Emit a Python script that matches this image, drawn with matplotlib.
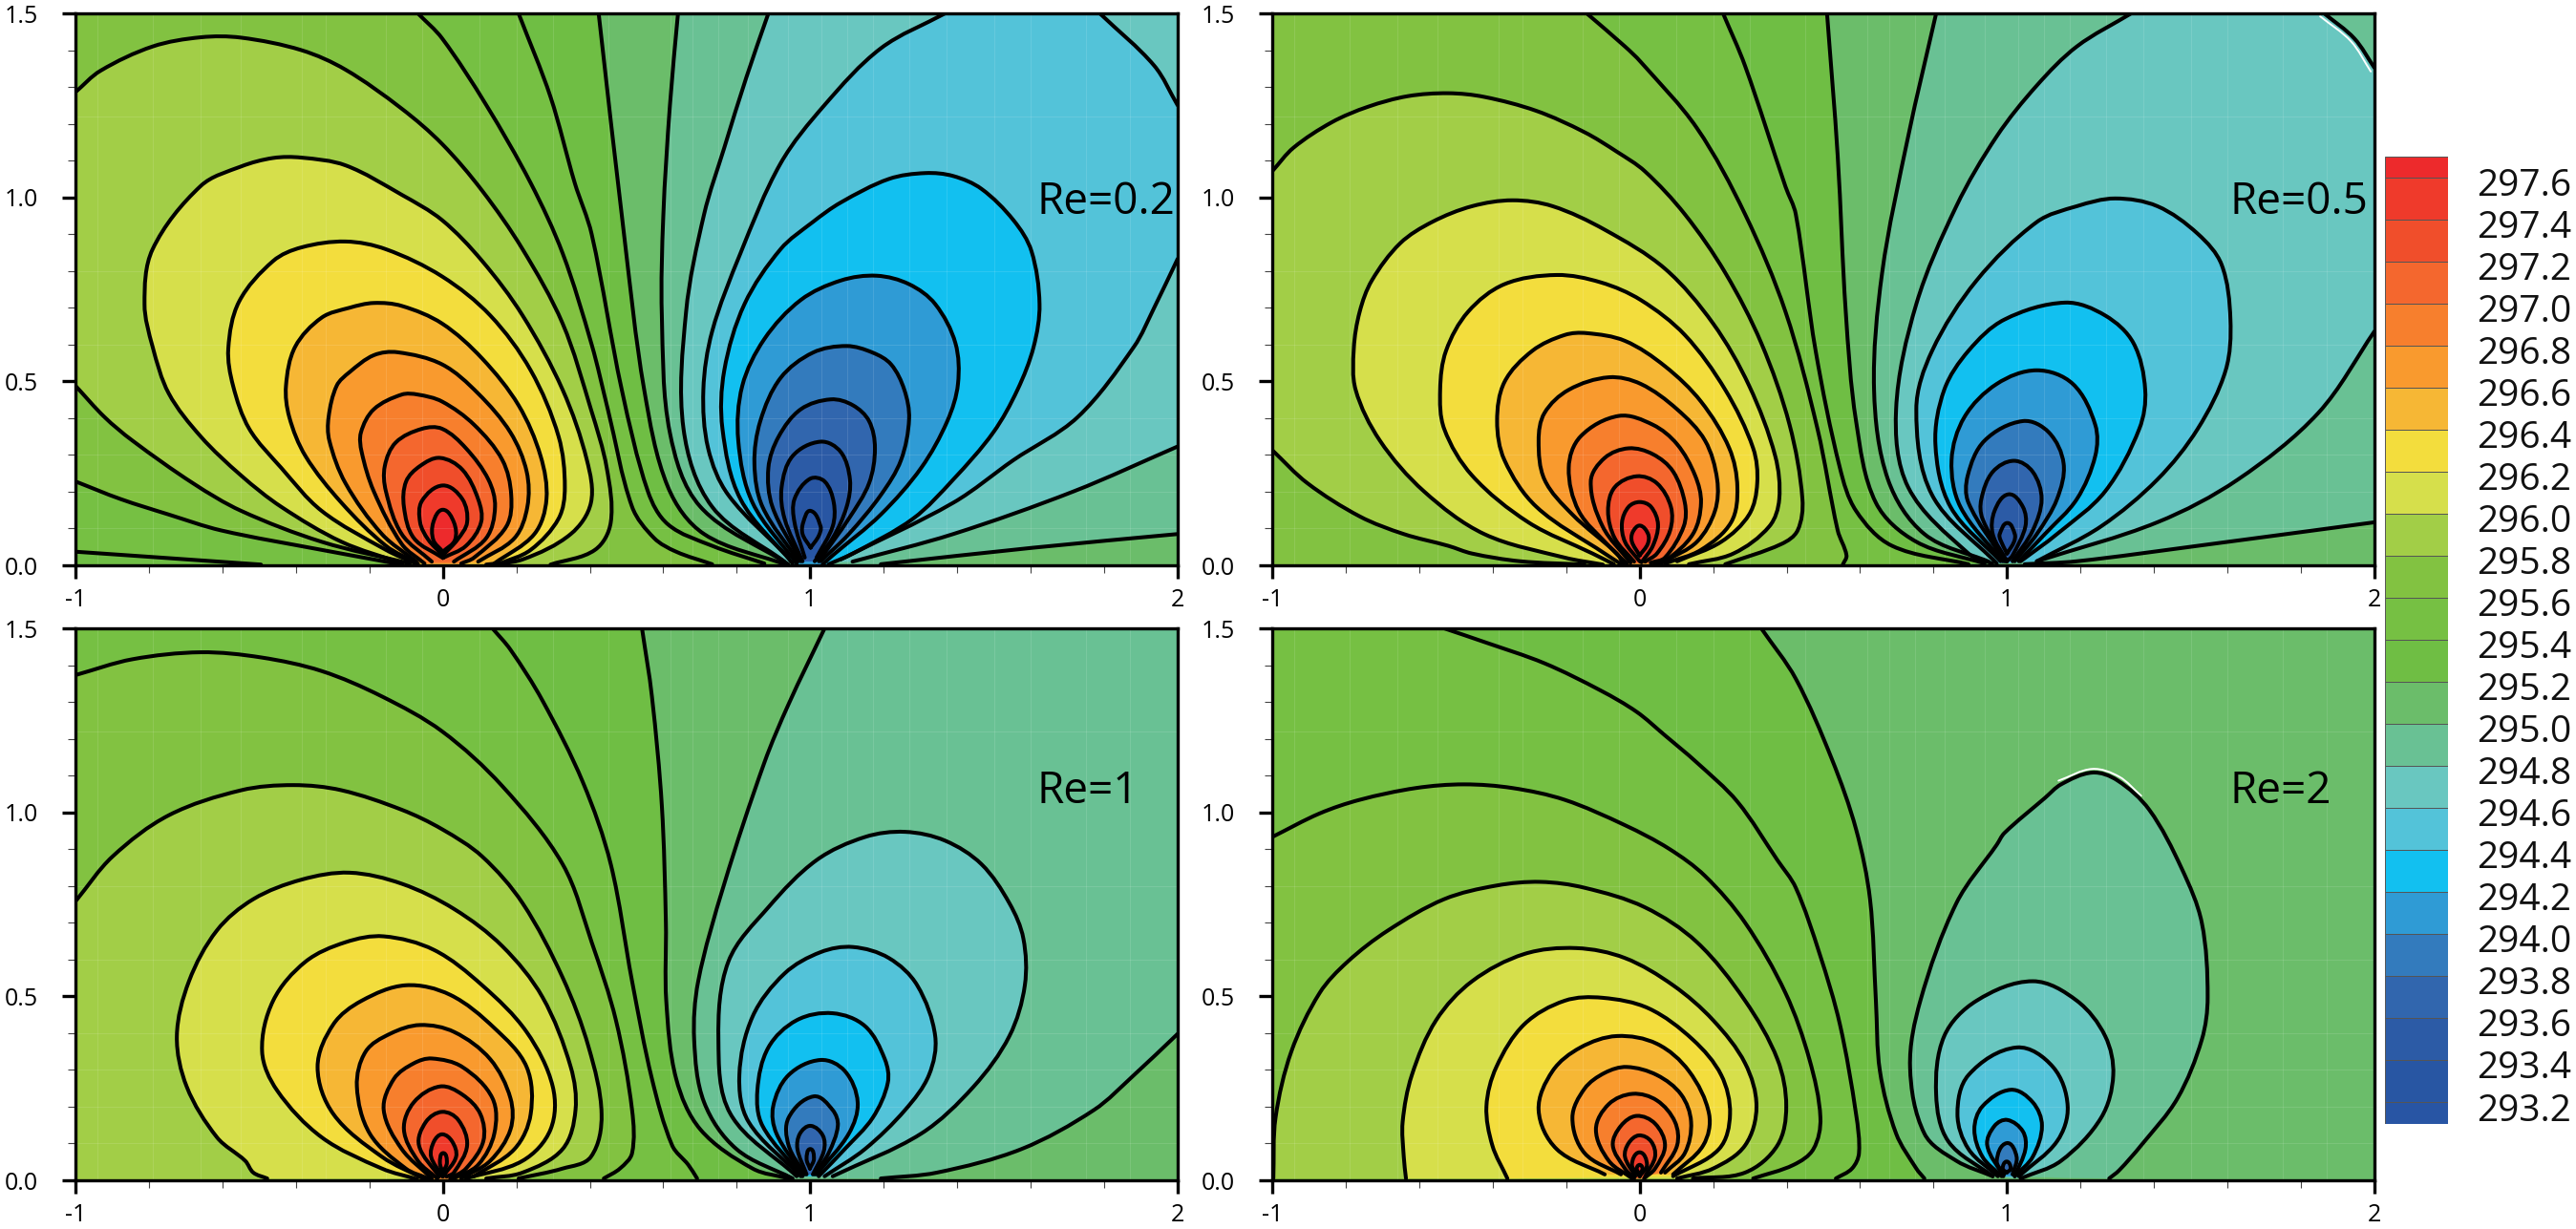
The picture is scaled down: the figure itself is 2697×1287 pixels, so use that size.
import math

import matplotlib
matplotlib.use("Agg")
import matplotlib.pyplot as plt
from matplotlib.patches import PathPatch
from matplotlib.path import Path

plt.rcParams['font.family'] = ['Open Sans', 'DejaVu Sans']
plt.rcParams['axes.unicode_minus'] = False

# colour bar, top to bottom
BAND_COLORS = ['#ED2A2C', '#EF3A2B', '#F04E2B', '#F4672E', '#F77F2D', '#F99A2E',
               '#F6B735', '#F3DD3D', '#D6DF4B', '#A2CE47', '#82C241', '#76C043',
               '#6FBE44', '#6BBD6A', '#69C194', '#69C7C0', '#53C3D9', '#12C0F0',
               '#2F9BD5', '#337BBD', '#3166AE', '#2C5BA6', '#2856A3', '#2855A4']
BAR_LEVELS = [297.6, 297.4, 297.2, 297.0, 296.8, 296.6, 296.4, 296.2, 296.0, 295.8, 295.6, 295.4,
              295.2, 295.0, 294.8, 294.6, 294.4, 294.2, 294.0, 293.8, 293.6, 293.4, 293.2]
BAR_LABELS = ['297.6', '297.4', '297.2', '297.0', '296.8', '296.6', '296.4', '296.2', '296.0',
              '295.8', '295.6', '295.4', '295.2', '295.0', '294.8', '294.6', '294.4', '294.2',
              '294.0', '293.8', '293.6', '293.4', '293.2']

X_TICKS = [-1, 0, 1, 2]
X_LABELS = ['-1', '0', '1', '2']
Y_TICKS = [0.0, 0.5, 1.0, 1.5]
Y_LABELS = ['0.0', '0.5', '1.0', '1.5']
X_MINOR = [-0.8, -0.6, -0.4, -0.2, 0.2, 0.4, 0.6, 0.8, 1.2, 1.4, 1.6, 1.8]
Y_MINOR = [0.1, 0.2, 0.3, 0.4, 0.6, 0.7, 0.8, 0.9, 1.1, 1.2, 1.3, 1.4]

# mesh seams that show faintly through the filled bands
SEAM_X = [-0.94, -0.79, -0.66, -0.55, -0.385, -0.32, -0.155, -0.057, 0.1, 0.2, 0.3, 0.45, 0.62,
          0.68, 0.75, 0.83, 0.94, 1.03, 1.1, 1.17, 1.27, 1.37, 1.5, 1.6, 1.75, 1.87]
SEAM_Y = [0.1, 0.2, 0.3, 0.4, 0.6, 0.8, 1.22]

# contours: (level, arcs). Arcs of one contour are joined along the frame to close
# the filled region, a one point arc is a frame corner.
RE02_WARM = [
    (295.2, [[(0.93, 0.003), (0.711, 0.085), (0.613, 0.212), (0.548, 0.477), (0.493, 0.9), (0.424, 1.5)],
             [(-1, 1.5)], [(-1, 0)]]),
    (295.4, [[(0.875, 0.005), (0.733, 0.053), (0.613, 0.111), (0.558, 0.201), (0.487, 0.477), (0.405, 0.9),
              (0.359, 1.039), (0.293, 1.273), (0.206, 1.5)],
             [(-1, 1.5)], [(-1, 0.037), (-0.768, 0.021), (-0.495, 0.002)]]),
    (295.6, [[(0.733, 0.003), (0.635, 0.037), (0.575, 0.074), (0.515, 0.159), (0.449, 0.424), (0.405, 0.6),
              (0.326, 0.848), (0.239, 1.039), (0.118, 1.251), (-0.002, 1.432), (-0.068, 1.5)],
             [(-1, 1.5)], [(-1, 0.228), (-0.877, 0.18), (-0.746, 0.138), (-0.604, 0.095), (-0.33, 0.042), (-0.112, 0.002)]]),
    (295.8, [[(0.293, 0.002), (0.414, 0.042), (0.457, 0.117), (0.446, 0.265), (0.403, 0.424), (0.326, 0.657),
              (0.217, 0.859), (0.107, 1.018), (-0.002, 1.145), (-0.112, 1.241), (-0.265, 1.347), (-0.385, 1.4),
              (-0.549, 1.434), (-0.659, 1.435), (-0.79, 1.41), (-0.932, 1.344), (-1, 1.286)],
             [(-1, 0.488), (-0.921, 0.403), (-0.845, 0.339), (-0.68, 0.223), (-0.549, 0.148), (-0.33, 0.064), (-0.09, 0.005)]]),
    (296.0, [[(-0.11, 0.005), (-0.276, 0.064), (-0.44, 0.159), (-0.549, 0.244), (-0.659, 0.35), (-0.746, 0.467),
              (-0.79, 0.594), (-0.812, 0.71), (-0.79, 0.859), (-0.659, 1.031), (-0.549, 1.084), (-0.462, 1.107),
              (-0.385, 1.108), (-0.265, 1.087), (-0.112, 1.007), (-0.002, 0.938), (0.107, 0.827), (0.217, 0.679),
              (0.326, 0.477), (0.392, 0.286), (0.403, 0.17), (0.348, 0.085), (0.217, 0.016), (0.118, 0.002)]]),
    (296.2, [[(-0.068, 0.002), (-0.155, 0.042), (-0.33, 0.148), (-0.44, 0.265), (-0.527, 0.371), (-0.571, 0.488),
              (-0.584, 0.589), (-0.555, 0.716), (-0.462, 0.827), (-0.385, 0.864), (-0.265, 0.88), (-0.155, 0.859),
              (-0.002, 0.785), (0.129, 0.679), (0.239, 0.53), (0.315, 0.35), (0.332, 0.212), (0.315, 0.127),
              (0.239, 0.042), (0.151, 0.003)]]),
    (296.4, [[(-0.068, 0.005), (-0.155, 0.053), (-0.276, 0.17), (-0.374, 0.297), (-0.418, 0.403), (-0.427, 0.488),
              (-0.402, 0.594), (-0.33, 0.673), (-0.254, 0.7), (-0.188, 0.713), (-0.112, 0.705), (-0.002, 0.657),
              (0.107, 0.562), (0.206, 0.435), (0.266, 0.297), (0.282, 0.18), (0.249, 0.085), (0.14, 0.005)]]),
    (296.6, [[(-0.072, 0.01), (-0.166, 0.085), (-0.265, 0.223), (-0.309, 0.339), (-0.311, 0.403), (-0.289, 0.488),
              (-0.254, 0.525), (-0.188, 0.571), (-0.123, 0.579), (-0.002, 0.546), (0.096, 0.467), (0.184, 0.361),
              (0.228, 0.255), (0.23, 0.159), (0.195, 0.074), (0.096, 0.01)]]),
    (296.8, [[(-0.05, 0.005), (-0.112, 0.058), (-0.188, 0.201), (-0.221, 0.308), (-0.223, 0.361), (-0.188, 0.424),
              (-0.112, 0.464), (-0.068, 0.464), (-0.002, 0.445), (0.085, 0.382), (0.162, 0.286), (0.186, 0.191),
              (0.173, 0.106), (0.085, 0.021), (0.05, 0.005)]]),
    (297.0, [[(-0.03, 0.01), (-0.112, 0.085), (-0.155, 0.201), (-0.158, 0.27), (-0.128, 0.334), (-0.057, 0.371),
              (-0.002, 0.371), (0.063, 0.318), (0.124, 0.233), (0.142, 0.159), (0.118, 0.074), (0.03, 0.01)]]),
    (297.2, [[(0.0, 0.02), (-0.079, 0.074), (-0.106, 0.159), (-0.1, 0.228), (-0.062, 0.27), (-0.008, 0.292),
              (0.053, 0.26), (0.096, 0.18), (0.104, 0.117), (0.063, 0.053), (0.0, 0.02)]]),
    (297.4, [[(0.0, 0.027), (-0.04, 0.07), (-0.062, 0.117), (-0.057, 0.175), (0.0, 0.217), (0.053, 0.18),
              (0.066, 0.117), (0.04, 0.07), (0.0, 0.027)]]),
    (297.6, [[(0.0, 0.037), (-0.026, 0.069), (-0.026, 0.117), (0.0, 0.151), (0.03, 0.117), (0.033, 0.069), (0.0, 0.037)]]),
]
RE02_COOL = [
    (295.0, [[(0.64, 1.5), (0.618, 1.25), (0.6, 0.95), (0.596, 0.679), (0.618, 0.36), (0.701, 0.159), (0.94, 0.003)],
             [(1.192, 0.003), (1.608, 0.048), (2, 0.085)], [(2, 1.5)]]),
    (294.8, [[(0.886, 1.5), (0.826, 1.326), (0.766, 1.135), (0.711, 0.954), (0.662, 0.689), (0.655, 0.371), (0.733, 0.159), (0.93, 0.01)],
             [(1.115, 0.01), (1.389, 0.085), (1.717, 0.201), (2, 0.323)], [(2, 1.5)]]),
    (294.6, [[(1.367, 1.5), (1.192, 1.405), (1.039, 1.251), (0.919, 1.092), (0.81, 0.848), (0.733, 0.636),
              (0.709, 0.477), (0.722, 0.318), (0.777, 0.191), (0.941, 0.021)],
             [(1.083, 0.016), (1.389, 0.17), (1.553, 0.286), (1.728, 0.403), (1.881, 0.594), (1.936, 0.7), (2, 0.833)],
             [(2, 1.25), (1.936, 1.358), (1.788, 1.5)]]),
    (294.4, [[(0.952, 0.005), (0.81, 0.18), (0.761, 0.371), (0.766, 0.53), (0.821, 0.71), (0.919, 0.859), (1.007, 0.933),
              (1.083, 0.986), (1.214, 1.05), (1.313, 1.066), (1.389, 1.058), (1.466, 1.023), (1.553, 0.938), (1.602, 0.854),
              (1.624, 0.71), (1.608, 0.594), (1.564, 0.477), (1.498, 0.361), (1.389, 0.233), (1.28, 0.127), (1.116, 0.032),
              (1.05, 0.003)]]),
    (294.2, [[(0.963, 0.005), (0.843, 0.17), (0.804, 0.339), (0.815, 0.488), (0.875, 0.615), (0.974, 0.721), (1.083, 0.774),
              (1.181, 0.787), (1.269, 0.764), (1.34, 0.71), (1.395, 0.604), (1.402, 0.493), (1.373, 0.392), (1.302, 0.265),
              (1.192, 0.138), (1.061, 0.027), (1.034, 0.003)]]),
    (294.0, [[(0.968, 0.011), (0.87, 0.159), (0.848, 0.276), (0.864, 0.392), (0.919, 0.509), (1.007, 0.578), (1.099, 0.596),
              (1.17, 0.578), (1.22, 0.546), (1.256, 0.477), (1.269, 0.398), (1.247, 0.286), (1.192, 0.191), (1.105, 0.085),
              (1.028, 0.011)]]),
    (293.8, [[(0.974, 0.011), (0.897, 0.159), (0.886, 0.265), (0.914, 0.35), (0.974, 0.424), (1.056, 0.451), (1.116, 0.435),
              (1.16, 0.392), (1.176, 0.318), (1.16, 0.223), (1.105, 0.127), (1.023, 0.011)]]),
    (293.6, [[(0.979, 0.011), (0.93, 0.127), (0.922, 0.212), (0.952, 0.297), (1.028, 0.336), (1.083, 0.308), (1.108, 0.233),
              (1.099, 0.159), (1.061, 0.074), (1.012, 0.011)]]),
    (293.4, [[(0.985, 0.021), (0.957, 0.117), (0.957, 0.18), (0.999, 0.235), (1.039, 0.228), (1.064, 0.17), (1.061, 0.106),
              (1.017, 0.021)]]),
    (293.2, [[(1.001, 0.048), (0.979, 0.085), (0.981, 0.117), (1.001, 0.148), (1.028, 0.106), (1.023, 0.08), (1.001, 0.048)]]),
]

RE05_WARM = [
    (295.2, [[(0.939, 0.005), (0.753, 0.064), (0.643, 0.17), (0.589, 0.392), (0.561, 0.689), (0.539, 1.113), (0.51, 1.5)],
             [(-1, 1.5)], [(-1, 0)]]),
    (295.4, [[(0.895, 0.003), (0.687, 0.053), (0.589, 0.148), (0.545, 0.265), (0.479, 0.583), (0.425, 0.954), (0.397, 1.029),
              (0.287, 1.357), (0.227, 1.5)],
             [(-1, 1.5)], [(-1, 0)]]),
    (295.6, [[(0.553, 0.002), (0.563, 0.027), (0.539, 0.095), (0.484, 0.371), (0.397, 0.689), (0.287, 0.954), (0.156, 1.188),
              (0.003, 1.368), (-0.04, 1.41), (-0.144, 1.5)],
             [(-1, 1.5)], [(-1, 0)]]),
    (295.8, [[(0.233, 0.003), (0.386, 0.058), (0.43, 0.095), (0.443, 0.18), (0.408, 0.382), (0.331, 0.604), (0.233, 0.795),
              (0.123, 0.954), (0.014, 1.071), (-0.062, 1.124), (-0.15, 1.177), (-0.281, 1.235), (-0.423, 1.273), (-0.521, 1.283),
              (-0.631, 1.275), (-0.74, 1.246), (-0.838, 1.204), (-0.942, 1.135), (-1, 1.071)],
             [(-1, 0.313), (-0.904, 0.223), (-0.762, 0.133), (-0.642, 0.085), (-0.521, 0.053), (-0.456, 0.032), (-0.325, 0.011),
              (-0.15, 0.002)]]),
    (296.0, [[(-0.1, 0.002), (-0.204, 0.021), (-0.423, 0.085), (-0.587, 0.201), (-0.707, 0.339), (-0.773, 0.477), (-0.778, 0.589),
              (-0.762, 0.689), (-0.729, 0.774), (-0.652, 0.875), (-0.565, 0.933), (-0.456, 0.976), (-0.346, 0.992), (-0.237, 0.976),
              (-0.095, 0.912), (0.069, 0.806), (0.2, 0.657), (0.298, 0.488), (0.369, 0.297), (0.38, 0.18), (0.353, 0.106),
              (0.255, 0.032), (0.134, 0.003)]]),
    (296.2, [[(-0.07, 0.003), (-0.128, 0.032), (-0.303, 0.117), (-0.456, 0.244), (-0.532, 0.371), (-0.543, 0.477), (-0.527, 0.583),
              (-0.467, 0.689), (-0.368, 0.764), (-0.226, 0.789), (-0.106, 0.769), (0.003, 0.721), (0.123, 0.626), (0.233, 0.477),
              (0.309, 0.318), (0.32, 0.223), (0.298, 0.138), (0.222, 0.064), (0.102, 0.011)]]),
    (296.4, [[(-0.05, 0.003), (-0.095, 0.032), (-0.281, 0.159), (-0.368, 0.286), (-0.388, 0.392), (-0.368, 0.498), (-0.292, 0.583),
              (-0.204, 0.626), (-0.144, 0.631), (-0.04, 0.61), (0.069, 0.541), (0.167, 0.445), (0.244, 0.318), (0.266, 0.212),
              (0.249, 0.117), (0.167, 0.042), (0.069, 0.005)]]),
    (296.6, [[(-0.045, 0.005), (-0.062, 0.032), (-0.183, 0.138), (-0.259, 0.233), (-0.275, 0.339), (-0.259, 0.414), (-0.193, 0.477),
              (-0.084, 0.511), (0.003, 0.493), (0.102, 0.424), (0.178, 0.339), (0.211, 0.233), (0.205, 0.148), (0.156, 0.064),
              (0.069, 0.011)]]),
    (296.8, [[(-0.035, 0.005), (-0.084, 0.053), (-0.166, 0.148), (-0.193, 0.265), (-0.161, 0.35), (-0.057, 0.406), (0.036, 0.382),
              (0.102, 0.329), (0.151, 0.244), (0.167, 0.17), (0.145, 0.085), (0.069, 0.011), (0.04, 0.005)]]),
    (297.0, [[(-0.025, 0.007), (-0.101, 0.106), (-0.133, 0.228), (-0.095, 0.292), (-0.03, 0.318), (0.036, 0.302), (0.091, 0.255),
              (0.123, 0.17), (0.12, 0.106), (0.069, 0.021), (0.03, 0.007)]]),
    (297.2, [[(-0.015, 0.01), (-0.068, 0.074), (-0.086, 0.148), (-0.068, 0.212), (-0.008, 0.242), (0.047, 0.223), (0.085, 0.159),
              (0.083, 0.095), (0.047, 0.032), (0.015, 0.01)]]),
    (297.4, [[(0.0, 0.011), (-0.04, 0.064), (-0.048, 0.117), (-0.03, 0.159), (0.0, 0.172), (0.031, 0.159), (0.05, 0.111),
              (0.036, 0.053), (0.005, 0.008)]]),
    (297.6, [[(0.0, 0.027), (-0.021, 0.064), (-0.019, 0.09), (0.001, 0.108), (0.023, 0.085), (0.022, 0.058), (0.0, 0.027)]]),
]
RE05_COOL = [
    (295.0, [[(0.807, 1.5), (0.731, 1.166), (0.66, 0.795), (0.638, 0.477), (0.676, 0.233), (0.775, 0.085), (0.95, 0.01)],
             [(1.048, 0.003), (1.19, 0.011), (1.519, 0.053), (2, 0.117)], [(2, 1.5)]]),
    (294.8, [[(1.338, 1.5), (1.19, 1.41), (1.081, 1.304), (0.972, 1.166), (0.862, 0.976), (0.753, 0.71), (0.698, 0.424),
              (0.731, 0.212), (0.895, 0.032), (0.96, 0.005)],
             [(1.081, 0.011), (1.409, 0.117), (1.628, 0.233), (1.847, 0.414), (2, 0.636)],
             [(2, 1.352), (1.945, 1.432), (1.863, 1.5)]]),
    (294.6, [[(0.972, 0.005), (0.796, 0.191), (0.753, 0.424), (0.796, 0.583), (0.917, 0.774), (1.081, 0.933), (1.19, 0.976),
              (1.294, 0.997), (1.409, 0.976), (1.519, 0.901), (1.584, 0.817), (1.608, 0.668), (1.595, 0.53), (1.519, 0.371),
              (1.409, 0.233), (1.256, 0.106), (1.081, 0.011)]]),
    (294.4, [[(0.982, 0.011), (0.846, 0.159), (0.805, 0.329), (0.829, 0.477), (0.895, 0.583), (0.993, 0.668), (1.158, 0.714),
              (1.267, 0.679), (1.344, 0.604), (1.376, 0.477), (1.36, 0.371), (1.267, 0.201), (1.136, 0.085), (1.037, 0.011)]]),
    (294.2, [[(0.988, 0.011), (0.873, 0.159), (0.849, 0.286), (0.884, 0.403), (0.972, 0.493), (1.081, 0.53), (1.179, 0.493),
              (1.24, 0.382), (1.24, 0.297), (1.19, 0.18), (1.103, 0.085), (1.032, 0.011)]]),
    (294.0, [[(0.993, 0.011), (0.895, 0.17), (0.893, 0.244), (0.939, 0.339), (1.043, 0.392), (1.114, 0.361), (1.154, 0.276),
              (1.136, 0.18), (1.081, 0.085), (1.021, 0.011)]]),
    (293.8, [[(0.996, 0.011), (0.933, 0.127), (0.93, 0.18), (0.961, 0.254), (1.019, 0.284), (1.07, 0.254), (1.094, 0.18),
              (1.07, 0.095), (1.015, 0.011)]]),
    (293.6, [[(1.0, 0.011), (0.961, 0.085), (0.966, 0.148), (1.004, 0.193), (1.043, 0.159), (1.05, 0.106), (1.015, 0.027), (1.0, 0.011)]]),
    (293.4, [[(1.0, 0.032), (0.982, 0.069), (0.98, 0.085), (1.001, 0.115), (1.021, 0.085), (1.019, 0.064), (1.0, 0.032)]]),
]

RE1_WARM = [
    (295.2, [[(0.941, 0.005), (0.843, 0.032), (0.701, 0.138), (0.635, 0.276), (0.608, 0.488), (0.607, 0.7), (0.596, 1.018),
              (0.569, 1.315), (0.542, 1.5)],
             [(-1, 1.5)], [(-1, 0)]]),
    (295.4, [[(0.692, 0.005), (0.668, 0.042), (0.624, 0.095), (0.569, 0.276), (0.515, 0.541), (0.457, 0.859), (0.381, 1.082),
              (0.271, 1.304), (0.184, 1.442), (0.135, 1.5)],
             [(-1, 1.5)], [(-1, 0)]]),
    (295.6, [[(0.438, 0.005), (0.482, 0.032), (0.515, 0.074), (0.515, 0.191), (0.471, 0.435), (0.405, 0.647), (0.326, 0.859),
              (0.162, 1.071), (-0.002, 1.22), (-0.166, 1.315), (-0.33, 1.384), (-0.495, 1.421), (-0.659, 1.435), (-0.845, 1.416), (-1, 1.373)],
             [(-1, 0)]]),
    (295.8, [[(0.206, 0.005), (0.326, 0.032), (0.403, 0.064), (0.432, 0.18), (0.397, 0.361), (0.326, 0.551), (0.217, 0.753),
              (0.107, 0.88), (-0.002, 0.954), (-0.112, 1.007), (-0.276, 1.06), (-0.407, 1.074), (-0.549, 1.06), (-0.746, 0.992),
              (-0.899, 0.88), (-1, 0.758)],
             [(-1, 0)]]),
    (296.0, [[(-0.478, 0.005), (-0.516, 0.021), (-0.538, 0.053), (-0.615, 0.117), (-0.697, 0.254), (-0.724, 0.392), (-0.691, 0.541),
              (-0.615, 0.679), (-0.516, 0.764), (-0.385, 0.817), (-0.254, 0.836), (-0.112, 0.806), (0.031, 0.737), (0.162, 0.636),
              (0.271, 0.498), (0.348, 0.308), (0.361, 0.191), (0.326, 0.085), (0.217, 0.021), (0.118, 0.005)]]),
    (296.2, [[(-0.07, 0.003), (-0.166, 0.032), (-0.33, 0.117), (-0.451, 0.244), (-0.492, 0.35), (-0.462, 0.488), (-0.374, 0.594),
              (-0.265, 0.647), (-0.161, 0.663), (-0.024, 0.626), (0.107, 0.53), (0.228, 0.403), (0.299, 0.255), (0.293, 0.138),
              (0.217, 0.053), (0.063, 0.005)]]),
    (296.4, [[(-0.05, 0.003), (-0.166, 0.064), (-0.298, 0.18), (-0.341, 0.308), (-0.298, 0.424), (-0.221, 0.488), (-0.101, 0.53),
              (0.02, 0.504), (0.14, 0.414), (0.228, 0.308), (0.239, 0.18), (0.195, 0.085), (0.085, 0.011)]]),
    (296.6, [[(-0.04, 0.005), (-0.101, 0.032), (-0.199, 0.127), (-0.234, 0.255), (-0.21, 0.35), (-0.144, 0.398), (-0.062, 0.422),
              (0.031, 0.403), (0.129, 0.329), (0.184, 0.223), (0.184, 0.138), (0.129, 0.053), (0.05, 0.005)]]),
    (296.8, [[(-0.03, 0.005), (-0.112, 0.085), (-0.161, 0.191), (-0.133, 0.276), (-0.079, 0.318), (-0.03, 0.331), (0.053, 0.308),
              (0.135, 0.223), (0.14, 0.127), (0.096, 0.042), (0.03, 0.005)]]),
    (297.0, [[(-0.015, 0.005), (-0.068, 0.053), (-0.106, 0.138), (-0.079, 0.212), (-0.008, 0.255), (0.053, 0.233), (0.102, 0.18),
              (0.11, 0.106), (0.063, 0.032), (0.02, 0.005)]]),
    (297.2, [[(-0.01, 0.01), (-0.065, 0.095), (-0.046, 0.159), (-0.002, 0.186), (0.042, 0.164), (0.066, 0.095), (0.03, 0.021), (0.01, 0.01)]]),
    (297.4, [[(0.0, 0.01), (-0.032, 0.064), (-0.024, 0.106), (-0.002, 0.125), (0.025, 0.106), (0.036, 0.064), (0.0, 0.01)]]),
    (297.6, [[(0.0, 0.021), (-0.008, 0.048), (0.001, 0.074), (0.011, 0.048), (0.0, 0.021)]]),
]
RE1_COOL = [
    (295.0, [[(1.039, 1.5), (0.941, 1.294), (0.875, 1.135), (0.766, 0.806), (0.695, 0.541), (0.684, 0.382), (0.711, 0.212),
              (0.799, 0.085), (0.952, 0.005)],
             [(1.192, 0.005), (1.345, 0.021), (1.575, 0.085), (1.772, 0.191), (1.881, 0.286), (2, 0.398)], [(2, 1.5)]]),
    (294.8, [[(0.963, 0.011), (0.783, 0.18), (0.75, 0.382), (0.777, 0.594), (0.886, 0.742), (1.017, 0.87), (1.149, 0.933),
              (1.258, 0.947), (1.367, 0.923), (1.466, 0.859), (1.542, 0.753), (1.58, 0.657), (1.584, 0.53), (1.542, 0.392),
              (1.444, 0.254), (1.302, 0.127), (1.061, 0.011)]]),
    (294.6, [[(0.974, 0.011), (0.832, 0.159), (0.807, 0.286), (0.843, 0.445), (0.93, 0.562), (1.028, 0.62), (1.116, 0.634),
              (1.214, 0.604), (1.291, 0.53), (1.34, 0.392), (1.323, 0.286), (1.258, 0.191), (1.149, 0.085), (1.039, 0.011)]]),
    (294.4, [[(0.979, 0.011), (0.87, 0.148), (0.856, 0.244), (0.886, 0.361), (0.963, 0.435), (1.061, 0.454), (1.149, 0.419),
              (1.203, 0.329), (1.211, 0.265), (1.17, 0.17), (1.094, 0.085), (1.023, 0.011)]]),
    (294.2, [[(0.979, 0.016), (0.908, 0.127), (0.899, 0.201), (0.941, 0.286), (1.028, 0.327), (1.094, 0.297), (1.129, 0.212),
              (1.105, 0.127), (1.017, 0.016)]]),
    (294.0, [[(0.985, 0.016), (0.941, 0.095), (0.941, 0.17), (1.009, 0.228), (1.061, 0.191), (1.075, 0.148), (1.05, 0.074), (1.012, 0.016)]]),
    (293.8, [[(0.99, 0.016), (0.965, 0.085), (0.972, 0.127), (1.001, 0.148), (1.034, 0.122), (1.037, 0.08), (1.007, 0.016)]]),
    (293.6, [[(0.999, 0.032), (0.99, 0.058), (1.0, 0.085), (1.01, 0.058), (0.999, 0.032)]]),
]

RE2_WARM = [
    (295.2, [[(0.775, 0.005), (0.753, 0.032), (0.698, 0.127), (0.654, 0.297), (0.643, 0.488), (0.627, 0.764), (0.589, 0.954),
              (0.523, 1.145), (0.425, 1.363), (0.331, 1.5)],
             [(-1, 1.5)], [(-1, 0)]]),
    (295.4, [[(0.534, 0.005), (0.578, 0.032), (0.597, 0.074), (0.589, 0.18), (0.545, 0.424), (0.49, 0.615), (0.425, 0.795),
              (0.375, 0.87), (0.266, 1.029), (0.156, 1.135), (0.069, 1.209), (-0.008, 1.273), (-0.106, 1.331), (-0.259, 1.405),
              (-0.423, 1.463), (-0.532, 1.5)],
             [(-1, 1.5)], [(-1, 0)]]),
    (295.6, [[(0.309, 0.005), (0.419, 0.042), (0.473, 0.085), (0.492, 0.17), (0.462, 0.329), (0.397, 0.509), (0.287, 0.7),
              (0.178, 0.827), (0.08, 0.901), (-0.04, 0.965), (-0.204, 1.034), (-0.346, 1.066), (-0.478, 1.076), (-0.609, 1.066),
              (-0.762, 1.034), (-0.871, 0.997), (-1, 0.933)],
             [(-1, 0)]]),
    (295.8, [[(-0.997, 0.005), (-0.991, 0.17), (-0.948, 0.35), (-0.871, 0.509), (-0.795, 0.594), (-0.685, 0.679), (-0.532, 0.764),
              (-0.39, 0.801), (-0.27, 0.811), (-0.15, 0.795), (0.014, 0.742), (0.156, 0.647), (0.287, 0.488), (0.375, 0.329),
              (0.399, 0.201), (0.375, 0.095), (0.287, 0.021), (0.145, 0.005)]]),
    (296.0, [[(-0.636, 0.005), (-0.642, 0.064), (-0.645, 0.159), (-0.62, 0.286), (-0.554, 0.435), (-0.456, 0.541), (-0.314, 0.615),
              (-0.172, 0.631), (-0.04, 0.604), (0.091, 0.53), (0.2, 0.435), (0.287, 0.318), (0.318, 0.201), (0.287, 0.095),
              (0.2, 0.032), (0.102, 0.005)]]),
    (296.2, [[(-0.36, 0.005), (-0.401, 0.095), (-0.417, 0.201), (-0.39, 0.308), (-0.314, 0.424), (-0.204, 0.488), (-0.101, 0.496),
              (0.025, 0.467), (0.145, 0.382), (0.222, 0.286), (0.246, 0.18), (0.216, 0.085), (0.091, 0.011)]]),
    (296.4, [[(-0.095, 0.016), (-0.226, 0.085), (-0.275, 0.191), (-0.237, 0.297), (-0.161, 0.361), (-0.062, 0.392), (0.047, 0.371),
              (0.134, 0.297), (0.189, 0.18), (0.173, 0.095), (0.091, 0.016)]]),
    (296.6, [[(-0.051, 0.016), (-0.15, 0.074), (-0.183, 0.17), (-0.15, 0.249), (-0.095, 0.292), (-0.035, 0.308), (0.047, 0.286),
              (0.113, 0.233), (0.14, 0.159), (0.123, 0.074), (0.069, 0.021)]]),
    (296.8, [[(-0.02, 0.005), (-0.084, 0.053), (-0.119, 0.138), (-0.084, 0.207), (-0.019, 0.235), (0.047, 0.217), (0.096, 0.159),
              (0.102, 0.095), (0.058, 0.021)]]),
    (297.0, [[(-0.015, 0.005), (-0.04, 0.032), (-0.073, 0.095), (-0.051, 0.148), (-0.008, 0.175), (0.042, 0.154), (0.069, 0.095),
              (0.042, 0.032), (0.012, 0.005)]]),
    (297.2, [[(-0.012, 0.011), (-0.04, 0.064), (-0.03, 0.101), (-0.002, 0.122), (0.031, 0.106), (0.042, 0.064), (0.015, 0.011)]]),
    (297.4, [[(0.0, 0.011), (-0.021, 0.042), (0.0, 0.076), (0.02, 0.042), (0.0, 0.011)]]),
    (297.6, [[(0.0, 0.016), (-0.008, 0.032), (0.0, 0.042), (0.008, 0.032), (0.0, 0.016)]]),
]
RE2_COOL = [
    (295.0, [[(0.961, 0.011), (0.862, 0.053), (0.775, 0.127), (0.736, 0.308), (0.764, 0.488), (0.862, 0.753), (0.972, 0.912),
              (0.993, 0.944), (1.103, 1.039), (1.147, 1.076), (1.232, 1.108), (1.3, 1.087), (1.387, 1.007), (1.475, 0.848),
              (1.53, 0.7), (1.546, 0.498), (1.53, 0.382), (1.464, 0.223), (1.365, 0.095), (1.305, 0.027), (1.278, 0.005)]]),
    (294.8, [[(0.961, 0.011), (0.84, 0.106), (0.807, 0.233), (0.829, 0.392), (0.917, 0.488), (1.07, 0.541), (1.19, 0.488),
              (1.267, 0.392), (1.289, 0.286), (1.256, 0.17), (1.147, 0.053), (1.037, 0.005)]]),
    (294.6, [[(0.975, 0.011), (0.895, 0.085), (0.865, 0.18), (0.895, 0.286), (1.026, 0.361), (1.125, 0.308), (1.165, 0.201),
              (1.136, 0.106), (1.032, 0.011)]]),
    (294.4, [[(0.985, 0.011), (0.933, 0.064), (0.911, 0.138), (0.933, 0.201), (1.01, 0.246), (1.07, 0.212), (1.095, 0.148),
              (1.07, 0.064), (1.021, 0.011)]]),
    (294.2, [[(0.99, 0.011), (0.946, 0.095), (0.966, 0.148), (1.001, 0.164), (1.043, 0.133), (1.05, 0.085), (1.021, 0.011)]]),
    (294.0, [[(0.992, 0.016), (0.972, 0.053), (0.999, 0.101), (1.026, 0.064), (1.015, 0.016)]]),
    (293.8, [[(0.999, 0.021), (0.988, 0.032), (0.999, 0.051), (1.01, 0.032), (0.999, 0.021)]]),
]

# thin white edges that run beside a few contours
RE05_EDGE = [(1.852, 1.492), (1.936, 1.424), (1.99, 1.342)]
RE2_EDGE = [(1.14, 1.086), (1.232, 1.118), (1.305, 1.097), (1.365, 1.045)]

W, H = 2697, 1287


def band_above(level):
    return BAND_COLORS[round((297.6 - level) / 0.2)]


def band_below(level):
    return BAND_COLORS[round((297.6 - level) / 0.2) + 1]


def unit(dx, dy):
    d = math.hypot(dx, dy)
    return (dx / d, dy / d) if d > 0 else (0.0, 0.0)


def arc_curve(points):
    # bezier segments through the read points, handles scaled by segment length
    verts = []
    codes = []
    n = len(points)
    for i in range(n - 1):
        p0 = points[max(i - 1, 0)]
        p1 = points[i]
        p2 = points[i + 1]
        p3 = points[min(i + 2, n - 1)]
        seg = math.hypot(p2[0] - p1[0], p2[1] - p1[1]) / 3
        t1 = unit(p2[0] - p0[0], p2[1] - p0[1])
        t2 = unit(p3[0] - p1[0], p3[1] - p1[1])
        verts += [(p1[0] + t1[0] * seg, p1[1] + t1[1] * seg),
                  (p2[0] - t2[0] * seg, p2[1] - t2[1] * seg), p2]
        codes += [Path.CURVE4] * 3
    return verts, codes


def fill_region(ax, arcs, color):
    verts = []
    codes = []
    for arc in arcs:
        verts.append(arc[0])
        codes.append(Path.LINETO if codes else Path.MOVETO)
        v, c = arc_curve(arc)
        verts += v
        codes += c
    verts.append(arcs[0][0])
    codes.append(Path.CLOSEPOLY)
    ax.add_patch(PathPatch(Path(verts, codes), facecolor=color, edgecolor=color, lw=0.3, zorder=1))


def stroke_arc(ax, arc, color, width, order):
    v, c = arc_curve(arc)
    path = Path([arc[0]] + v, [Path.MOVETO] + c)
    ax.add_patch(PathPatch(path, fill=False, edgecolor=color, lw=width, capstyle='round',
                           joinstyle='round', zorder=order))


def panel(box, warm, cool, edge, label, label_x, label_y):
    left, top, right, bottom = box
    ax = fig.add_axes([left / W, 1 - bottom / H, (right - left) / W, (bottom - top) / H])
    ax.set_xlim(-1, 2)
    ax.set_ylim(0, 1.5)
    ax.set_facecolor(BAND_COLORS[13])

    for level, arcs in warm:
        fill_region(ax, arcs, band_above(level))
    for level, arcs in cool:
        fill_region(ax, arcs, band_below(level))

    for x in SEAM_X:
        ax.axvline(x, color='white', lw=0.5, alpha=0.16, zorder=2)
    for y in SEAM_Y:
        ax.axhline(y, color='white', lw=0.5, alpha=0.16, zorder=2)

    if edge:
        stroke_arc(ax, edge, 'white', 1.4, 2.5)
    for level, arcs in warm + cool:
        for arc in arcs:
            if len(arc) > 1:
                stroke_arc(ax, arc, 'black', 2.9, 3)

    ax.set_xticks(X_TICKS)
    ax.set_xticklabels(X_LABELS)
    ax.set_yticks(Y_TICKS)
    ax.set_yticklabels(Y_LABELS)
    ax.set_xticks(X_MINOR, minor=True)
    ax.set_yticks(Y_MINOR, minor=True)
    ax.tick_params(axis='x', which='major', length=10, width=2.4, labelsize=18, pad=7)
    ax.tick_params(axis='y', which='major', length=10, width=2.4, labelsize=18, pad=18)
    ax.tick_params(which='minor', length=6, width=0.8, color='#444444')
    for name, spine in ax.spines.items():
        spine.set_linewidth(2.4)
        spine.set_zorder(5)

    ax.text(label_x, label_y, label, fontsize=33, color='black', va='baseline', ha='left', zorder=6)
    return ax


fig = plt.figure(figsize=(W / 100, H / 100), dpi=100)

panel((79, 14, 1233, 592), RE02_WARM, RE02_COOL, None, 'Re=0.2', 1.616, 0.956)
panel((1332, 14, 2486, 592), RE05_WARM, RE05_COOL, RE05_EDGE, 'Re=0.5', 1.605, 0.956)
panel((79, 658, 1233, 1236), RE1_WARM, RE1_COOL, None, 'Re=1', 1.616, 1.026)
panel((1332, 658, 2486, 1236), RE2_WARM, RE2_COOL, RE2_EDGE, 'Re=2', 1.605, 1.026)

# colour bar, half bands at both ends
cax = fig.add_axes([2497 / W, 1 - 1176.5 / H, 66 / W, 1012.5 / H])
cax.set_xlim(0, 1)
cax.set_ylim(293.1, 297.7)
edges = [297.7] + BAR_LEVELS + [293.1]
for i, color in enumerate(BAND_COLORS):
    cax.bar(0.5, edges[i] - edges[i + 1], bottom=edges[i + 1], width=1, color=color,
            edgecolor='#555555', linewidth=0.7)
for level, text in zip(BAR_LEVELS, BAR_LABELS):
    cax.annotate(text, xy=(1, level), xycoords='data', xytext=(22, -6.5), textcoords='offset points',
                 fontsize=28, va='center', ha='left', color='#111111', annotation_clip=False)
cax.axis('off')

fig.savefig('out.png', dpi=100)
